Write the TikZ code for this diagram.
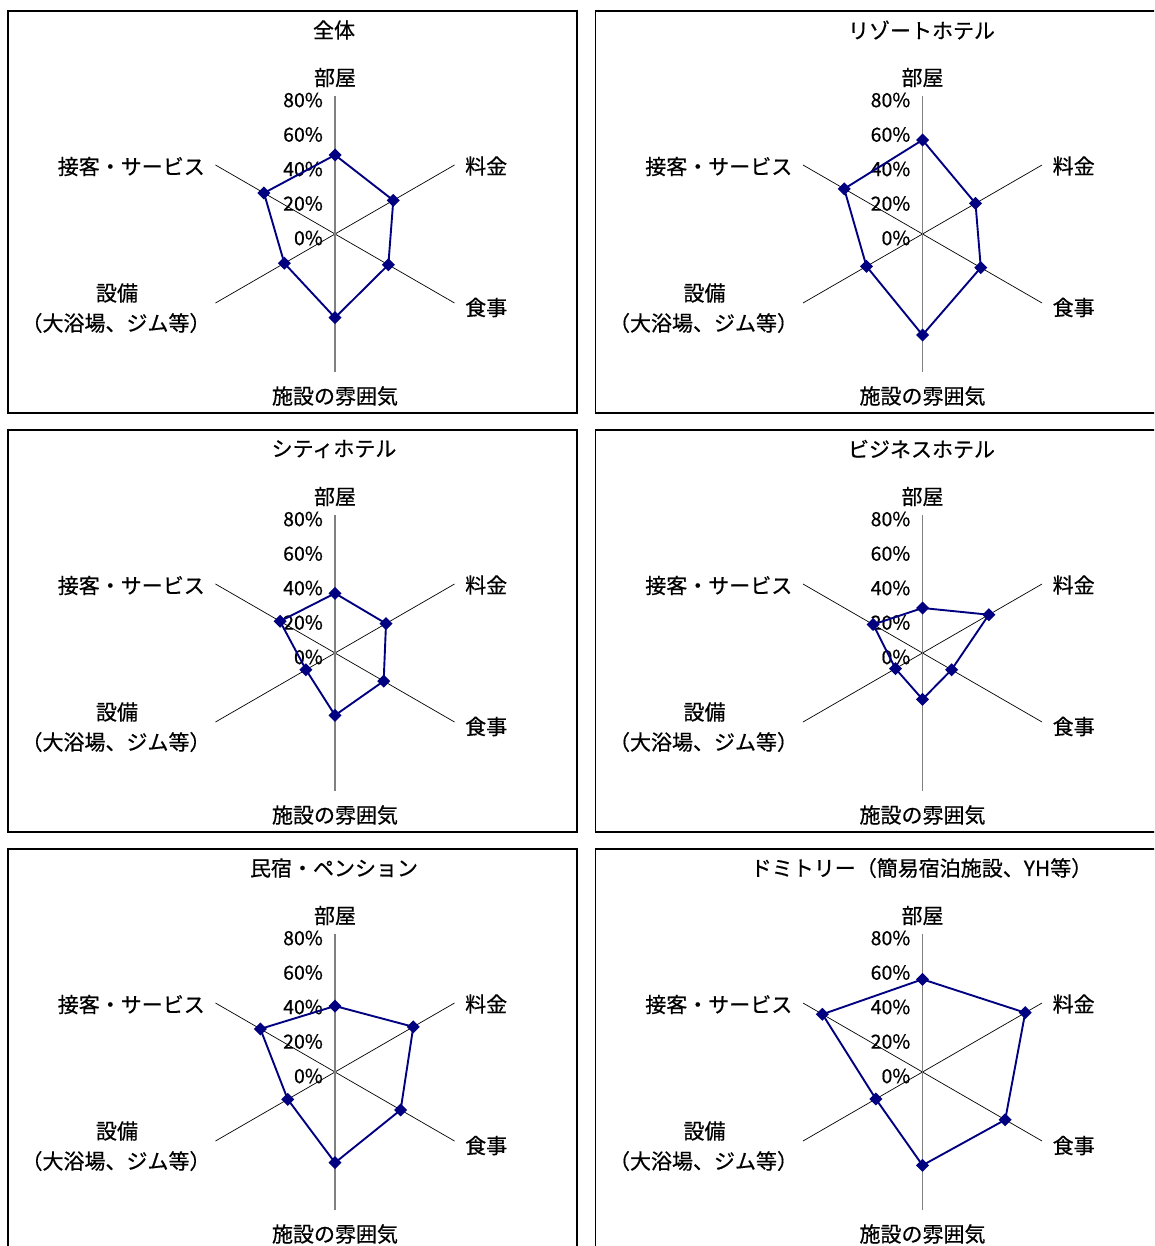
\documentclass[tikz,border=0pt]{standalone}
\usepackage{fontspec}
\setmainfont{Noto Sans CJK JP}[FakeBold=0.6,BoldFont={Noto Sans CJK JP}]
\definecolor{series}{RGB}{0,0,128}
\definecolor{axisgray}{RGB}{128,128,128}
\tikzset{
  panel/.style={draw=black,line width=1.3pt},
  vaxis/.style={draw=axisgray,line width=1.5pt},
  daxis/.style={draw=black,line width=0.7pt},
  seriesline/.style={draw=series,line width=1.9pt,line join=round},
  lab/.style={font=\fontsize{21}{24}\selectfont\bfseries,inner sep=0pt},
  ticklab/.style={font=\fontsize{19.5}{22}\selectfont\bfseries,inner sep=0pt,anchor=east},
  ttl/.style={font=\fontsize{21}{24}\selectfont\bfseries,inner sep=0pt},
}
% #1 name, #2 center, #3 title, #4..#9 radii (px) for 90,30,-30,-90,210,150 deg
\newcommand\radarchart[9]{%
  \begin{scope}[shift={#2}]
    \draw[panel] (-327,-179) rectangle (242,223);
    \node[ttl] (#1-title) at (-1,204) {#3};
    \draw[daxis] (0,0) -- (30:138);
    \draw[daxis] (0,0) -- (-30:138);
    \draw[daxis] (0,0) -- (210:138);
    \draw[daxis] (0,0) -- (150:138);
    \draw[vaxis] (90:138) -- (-90:138);
    \foreach \p in {0,20,40,60,80}{
      \node[ticklab] (#1-t\p) at (-12,{\p*1.725-4}) {\p\%};
    }
    \node[lab] (#1-room) at (0,156.5) {部屋};
    \node[lab,anchor=west] (#1-price) at (130,68) {料金};
    \node[lab,anchor=west] (#1-meal) at (130,-73.5) {食事};
    \node[lab] (#1-atmos) at (0,-162) {施設の雰囲気};
    \node[lab,anchor=east] (#1-serv) at (-130,67.5) {接客・サービス};
    \node[lab] (#1-fac1) at (-218,-59) {設備};
    \node[lab] (#1-fac2) at (-219,-89) {（大浴場、ジム等）};
    \draw[seriesline] (90:#4) -- (30:#5) -- (-30:#6) -- (-90:#7) -- (210:#8) -- (150:#9) -- cycle;
    \foreach \a/\r in {90/#4,30/#5,-30/#6,-90/#7,210/#8,150/#9}{
      \fill[series] (\a:\r) +(-6.5,0) -- +(0,6.5) -- +(6.5,0) -- +(0,-6.5) -- cycle;
    }
  \end{scope}%
}
\begin{document}
\begin{tikzpicture}[x=1pt,y=1pt]
  \useasboundingbox (0,0) rectangle (1154,-1246);
  \clip (0,0) rectangle (1154,-1246);
  \fill[white] (0,0) rectangle (1154,-1246);
  \radarchart{c1}{(335,-234)}{全体}{79}{67.3}{61.6}{83.7}{58.5}{82}
  \radarchart{c2}{(922.5,-234)}{リゾートホテル}{94}{61.2}{67.3}{101}{64.7}{90.4}
  \radarchart{c3}{(335,-653)}{シティホテル}{59.7}{58.9}{56.2}{62.3}{33.5}{63.5}
  \radarchart{c4}{(922.5,-653)}{ビジネスホテル}{45}{76.6}{33.5}{46.3}{31.2}{57}
  \radarchart{c5}{(335,-1072)}{民宿・ペンション}{66}{90.4}{75.8}{90.7}{54.6}{86.2}
  \radarchart{c6}{(922.5,-1072)}{ドミトリー（簡易宿泊施設、YH等）}{92.7}{118.6}{95.5}{93.3}{53.9}{115.5}
\end{tikzpicture}
\end{document}
